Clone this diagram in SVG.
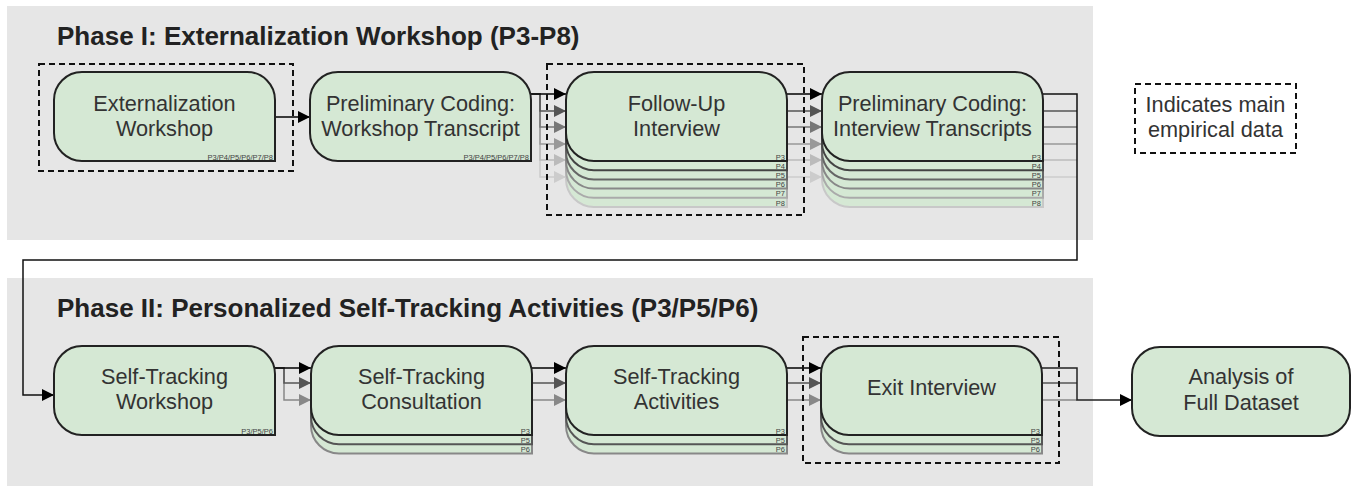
<svg xmlns="http://www.w3.org/2000/svg" xmlns:xlink="http://www.w3.org/1999/xlink" width="1353" height="493" viewBox="0 0 1353 493">
<style>
.bg{fill:#e6e6e6;}
.title{font-family:"Liberation Sans",Arial,sans-serif;font-weight:bold;font-size:26px;fill:#222;}
.lbl{font-family:"Liberation Sans",Arial,sans-serif;font-size:21.7px;fill:#333;text-anchor:middle;}
.sm{font-family:"Liberation Sans",Arial,sans-serif;font-size:7.5px;fill:#444;text-anchor:end;}
.node{fill:#d5e8d4;stroke-width:2;}
.dash{fill:none;stroke:#111;stroke-width:2;stroke-dasharray:6 4;}
.c{fill:none;stroke-width:1.5;}
</style>
<defs>
<path id="shp" d="M28,0 H193 A28,28 0 0 1 221,28 V89 H28 A28,28 0 0 1 0,61 V28 A28,28 0 0 1 28,0 Z"/>
<marker id="a0" viewBox="0 0 10 10" refX="10" refY="5" markerWidth="12" markerHeight="12" markerUnits="userSpaceOnUse" orient="auto"><path d="M0,0 L10,5 L0,10 Z" fill="#000"/></marker>
<marker id="a1" viewBox="0 0 10 10" refX="10" refY="5" markerWidth="12" markerHeight="12" markerUnits="userSpaceOnUse" orient="auto"><path d="M0,0 L10,5 L0,10 Z" fill="#555"/></marker>
<marker id="a2" viewBox="0 0 10 10" refX="10" refY="5" markerWidth="12" markerHeight="12" markerUnits="userSpaceOnUse" orient="auto"><path d="M0,0 L10,5 L0,10 Z" fill="#777"/></marker>
<marker id="a3" viewBox="0 0 10 10" refX="10" refY="5" markerWidth="12" markerHeight="12" markerUnits="userSpaceOnUse" orient="auto"><path d="M0,0 L10,5 L0,10 Z" fill="#999"/></marker>
<marker id="a4" viewBox="0 0 10 10" refX="10" refY="5" markerWidth="12" markerHeight="12" markerUnits="userSpaceOnUse" orient="auto"><path d="M0,0 L10,5 L0,10 Z" fill="#bbb"/></marker>
<marker id="a5" viewBox="0 0 10 10" refX="10" refY="5" markerWidth="12" markerHeight="12" markerUnits="userSpaceOnUse" orient="auto"><path d="M0,0 L10,5 L0,10 Z" fill="#ccc"/></marker>
<marker id="b2" viewBox="0 0 10 10" refX="10" refY="5" markerWidth="12" markerHeight="12" markerUnits="userSpaceOnUse" orient="auto"><path d="M0,0 L10,5 L0,10 Z" fill="#888"/></marker>
</defs>

<g id="phase1-bg"><rect class="bg" x="7" y="6" width="1086" height="234"/>
<text class="title" x="57" y="45">Phase I: Externalization Workshop (P3-P8)</text></g>
<g id="phase2-bg"><rect class="bg" x="7" y="278" width="1086" height="208"/>
<text class="title" x="57" y="317">Phase II: Personalized Self-Tracking Activities (P3/P5/P6)</text></g>

<g id="connectors">
<path class="c" stroke="#000" d="M275,117 H310" marker-end="url(#a0)"/>
<path class="c" stroke="#ccc" d="M531,94 H540 V177 H566" marker-end="url(#a5)"/>
<path class="c" stroke="#bbb" d="M531,94 H540 V160 H566" marker-end="url(#a4)"/>
<path class="c" stroke="#999" d="M531,94 H540 V144 H566" marker-end="url(#a3)"/>
<path class="c" stroke="#777" d="M531,94 H540 V127 H566" marker-end="url(#a2)"/>
<path class="c" stroke="#555" d="M531,94 H540 V111 H566" marker-end="url(#a1)"/>
<path class="c" stroke="#000" d="M531,94 H566" marker-end="url(#a0)"/>
<path class="c" stroke="#ccc" d="M787,177 H822" marker-end="url(#a5)"/>
<path class="c" stroke="#bbb" d="M787,160 H822" marker-end="url(#a4)"/>
<path class="c" stroke="#999" d="M787,144 H822" marker-end="url(#a3)"/>
<path class="c" stroke="#777" d="M787,127 H822" marker-end="url(#a2)"/>
<path class="c" stroke="#555" d="M787,111 H822" marker-end="url(#a1)"/>
<path class="c" stroke="#000" d="M787,94 H822" marker-end="url(#a0)"/>
<path class="c" stroke="#ccc" d="M1043,177 H1077"/>
<path class="c" stroke="#bbb" d="M1043,160 H1077"/>
<path class="c" stroke="#999" d="M1043,144 H1077"/>
<path class="c" stroke="#777" d="M1043,127 H1077"/>
<path class="c" stroke="#555" d="M1043,111 H1077"/>
<path class="c" stroke="#111" d="M1043,94 H1077 V260 H23 V395 H54" marker-end="url(#a0)"/>

<path class="c" stroke="#888" d="M275,368 H284 V400 H311" marker-end="url(#b2)"/>
<path class="c" stroke="#555" d="M275,368 H284 V383 H311" marker-end="url(#a1)"/>
<path class="c" stroke="#000" d="M275,368 H311" marker-end="url(#a0)"/>
<path class="c" stroke="#888" d="M532,400 H566" marker-end="url(#b2)"/>
<path class="c" stroke="#555" d="M532,383 H566" marker-end="url(#a1)"/>
<path class="c" stroke="#000" d="M532,368 H566" marker-end="url(#a0)"/>
<path class="c" stroke="#888" d="M787,400 H821" marker-end="url(#b2)"/>
<path class="c" stroke="#555" d="M787,383 H821" marker-end="url(#a1)"/>
<path class="c" stroke="#000" d="M787,368 H821" marker-end="url(#a0)"/>
<path class="c" stroke="#888" d="M1042,400 H1077"/>
<path class="c" stroke="#555" d="M1042,383 H1077"/>
<path class="c" stroke="#222" d="M1042,368 H1077 V400 H1132" marker-end="url(#a0)"/>
</g>

<g id="n1" transform="translate(54,72)">
<use xlink:href="#shp" class="node" stroke="#222"/>
<text class="lbl" x="110.5" y="39">Externalization</text>
<text class="lbl" x="110.5" y="64">Workshop</text>
<text class="sm" x="219" y="87.5">P3/P4/P5/P6/P7/P8</text>
</g>
<g id="n2" transform="translate(310,72)">
<use xlink:href="#shp" class="node" stroke="#222"/>
<text class="lbl" x="110.5" y="39">Preliminary Coding:</text>
<text class="lbl" x="110.5" y="64">Workshop Transcript</text>
<text class="sm" x="219" y="87.5">P3/P4/P5/P6/P7/P8</text>
</g>
<g id="n3" transform="translate(566,72)">
<use xlink:href="#shp" class="node" stroke="#c8c8c8" transform="translate(0,46)"/>
<text class="sm" x="219" y="133.5">P8</text>
<use xlink:href="#shp" class="node" stroke="#aaa" transform="translate(0,36.8)"/>
<text class="sm" x="219" y="124.3">P7</text>
<use xlink:href="#shp" class="node" stroke="#888" transform="translate(0,27.6)"/>
<text class="sm" x="219" y="115.1">P6</text>
<use xlink:href="#shp" class="node" stroke="#666" transform="translate(0,18.4)"/>
<text class="sm" x="219" y="105.9">P5</text>
<use xlink:href="#shp" class="node" stroke="#444" transform="translate(0,9.2)"/>
<text class="sm" x="219" y="96.7">P4</text>
<use xlink:href="#shp" class="node" stroke="#222"/>
<text class="sm" x="219" y="87.5">P3</text>
<text class="lbl" x="110.5" y="39">Follow-Up</text>
<text class="lbl" x="110.5" y="64">Interview</text>
</g>
<g id="n4" transform="translate(822,72)">
<use xlink:href="#shp" class="node" stroke="#c8c8c8" transform="translate(0,46)"/>
<text class="sm" x="219" y="133.5">P8</text>
<use xlink:href="#shp" class="node" stroke="#aaa" transform="translate(0,36.8)"/>
<text class="sm" x="219" y="124.3">P7</text>
<use xlink:href="#shp" class="node" stroke="#888" transform="translate(0,27.6)"/>
<text class="sm" x="219" y="115.1">P6</text>
<use xlink:href="#shp" class="node" stroke="#666" transform="translate(0,18.4)"/>
<text class="sm" x="219" y="105.9">P5</text>
<use xlink:href="#shp" class="node" stroke="#444" transform="translate(0,9.2)"/>
<text class="sm" x="219" y="96.7">P4</text>
<use xlink:href="#shp" class="node" stroke="#222"/>
<text class="sm" x="219" y="87.5">P3</text>
<text class="lbl" x="110.5" y="39">Preliminary Coding:</text>
<text class="lbl" x="110.5" y="64">Interview Transcripts</text>
</g>

<g id="n5" transform="translate(54,346)">
<use xlink:href="#shp" class="node" stroke="#222"/>
<text class="lbl" x="110.5" y="38">Self-Tracking</text>
<text class="lbl" x="110.5" y="63">Workshop</text>
<text class="sm" x="219" y="87.5">P3/P5/P6</text>
</g>
<g id="n6" transform="translate(311,346)">
<use xlink:href="#shp" class="node" stroke="#888" transform="translate(0,18.4)"/>
<text class="sm" x="219" y="105.9">P6</text>
<use xlink:href="#shp" class="node" stroke="#555" transform="translate(0,9.2)"/>
<text class="sm" x="219" y="96.7">P5</text>
<use xlink:href="#shp" class="node" stroke="#222"/>
<text class="sm" x="219" y="87.5">P3</text>
<text class="lbl" x="110.5" y="38">Self-Tracking</text>
<text class="lbl" x="110.5" y="63">Consultation</text>
</g>
<g id="n7" transform="translate(566,346)">
<use xlink:href="#shp" class="node" stroke="#888" transform="translate(0,18.4)"/>
<text class="sm" x="219" y="105.9">P6</text>
<use xlink:href="#shp" class="node" stroke="#555" transform="translate(0,9.2)"/>
<text class="sm" x="219" y="96.7">P5</text>
<use xlink:href="#shp" class="node" stroke="#222"/>
<text class="sm" x="219" y="87.5">P3</text>
<text class="lbl" x="110.5" y="38">Self-Tracking</text>
<text class="lbl" x="110.5" y="63">Activities</text>
</g>
<g id="n8" transform="translate(821,346)">
<use xlink:href="#shp" class="node" stroke="#888" transform="translate(0,18.4)"/>
<text class="sm" x="219" y="105.9">P6</text>
<use xlink:href="#shp" class="node" stroke="#555" transform="translate(0,9.2)"/>
<text class="sm" x="219" y="96.7">P5</text>
<use xlink:href="#shp" class="node" stroke="#222"/>
<text class="sm" x="219" y="87.5">P3</text>
<text class="lbl" x="110.5" y="49">Exit Interview</text>
</g>
<g id="n9">
<rect class="node" stroke="#222" x="1132" y="347" width="218" height="89" rx="28" ry="28"/>
<text class="lbl" x="1241" y="384">Analysis of</text>
<text class="lbl" x="1241" y="410">Full Dataset</text>
</g>

<g id="dashed-boxes">
<rect class="dash" x="39" y="64" width="254" height="107"/>
<rect class="dash" x="547" y="64" width="257" height="151"/>
<rect class="dash" x="803" y="337" width="256" height="126"/>
</g>
<g id="legend">
<rect class="dash" x="1135" y="84" width="161" height="69"/>
<text class="lbl" x="1215.5" y="112">Indicates main</text>
<text class="lbl" x="1215.5" y="137">empirical data</text>
</g>
</svg>
